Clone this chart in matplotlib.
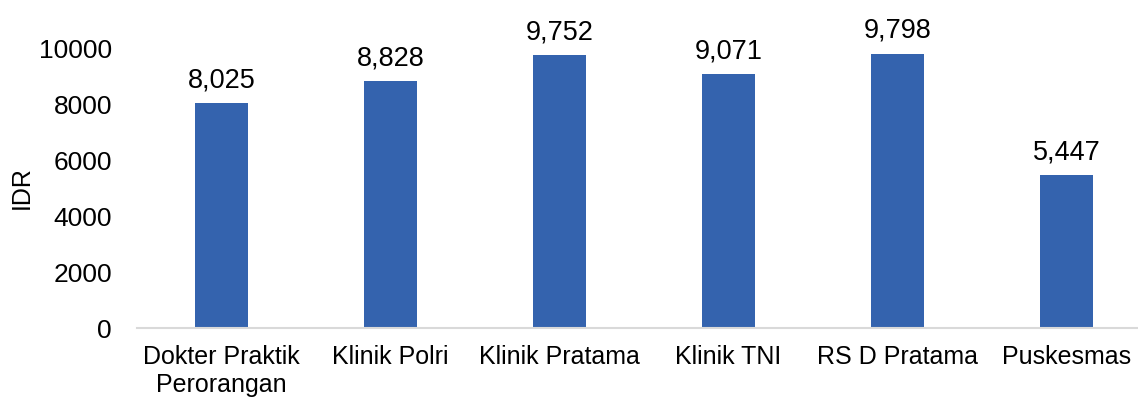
import matplotlib.pyplot as plt

# data
categories = ['Dokter Praktik\nPerorangan', 'Klinik Polri', 'Klinik Pratama',
              'Klinik TNI', 'RS D Pratama', 'Puskesmas']
values = [8025, 8828, 9752, 9071, 9798, 5447]
yticks = [0, 2000, 4000, 6000, 8000, 10000]

plt.rcParams['font.family'] = ['Liberation Sans', 'DejaVu Sans']

fig = plt.figure(figsize=(11.38, 4.01), dpi=100)
ax = fig.add_axes([137 / 1138, 1 - 328 / 401, 1014 / 1138, 280 / 401])

x = range(len(categories))
bars = ax.bar(x, values, width=0.315, color='#3463ae')

# value labels above bars
for b, v in zip(bars, values):
    ax.annotate(f'{v:,}', (b.get_x() + b.get_width() / 2, v),
                xytext=(0, 7), textcoords='offset points',
                ha='center', va='bottom', fontsize=19.5, clip_on=False)

ax.set_xlim(-0.5, len(categories) - 0.5)
ax.set_ylim(0, 10000)
ax.set_yticks(yticks)
ax.set_yticklabels([str(t) for t in yticks], fontsize=19)
ax.set_xticks(list(x))
ax.set_xticklabels(categories, fontsize=18, linespacing=1.25)
ax.tick_params(length=0, axis='both')
ax.tick_params(axis='y', pad=18)
ax.tick_params(axis='x', pad=12)

ax.set_ylabel('IDR', fontsize=18, labelpad=4)

for s in ['top', 'right', 'left']:
    ax.spines[s].set_visible(False)
ax.spines['bottom'].set_color('#d9d9d9')
ax.spines['bottom'].set_linewidth(1.5)

plt.savefig('out.png', dpi=100)
